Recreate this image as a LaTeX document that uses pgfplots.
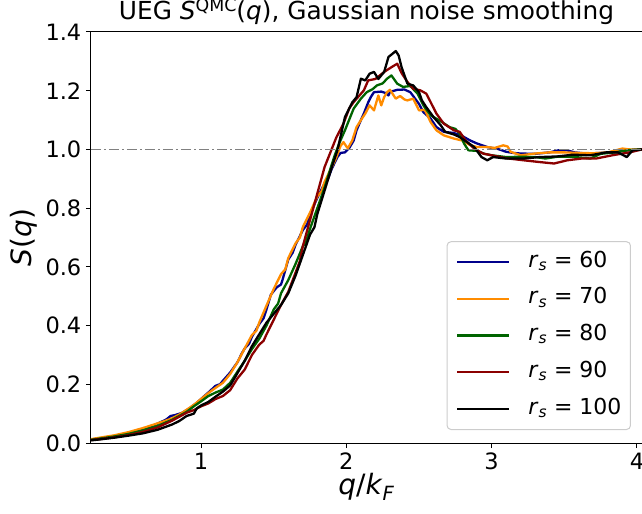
\documentclass[border=0pt]{standalone}
\usepackage{fontspec}
\setmainfont{DejaVu Sans}
\usepackage{pgfplots}
\pgfplotsset{compat=1.18}
\definecolor{cblue}{HTML}{00008B}
\definecolor{corange}{HTML}{FF8C00}
\definecolor{cgreen}{HTML}{006400}
\definecolor{cred}{HTML}{8B0000}
\newcommand\rs{\textit{r}\textsubscript{\textit{s}}}
\begin{document}
\begin{tikzpicture}
\begin{axis}[name=ax, scale only axis, width=551bp, height=411bp,
  xmin=0.242, xmax=4.035, ymin=0, ymax=1.4,
  xtick={1,2,3,4}, ytick={0,0.2,0.4,0.6,0.8,1.0,1.2,1.4},
  yticklabel style={/pgf/number format/.cd, fixed, fixed zerofill, precision=1},
  /pgf/number format/assume math mode=true,
  tick align=outside, xtick pos=left, ytick pos=left, major tick length=5bp,
  tick style={black, line width=1bp},
  axis line style={line width=1bp},
  ticklabel style={font=\fontsize{22.5bp}{27bp}\selectfont, inner sep=4.5bp},
  title={UEG \textit{S}\raisebox{8bp}{\fontsize{17.4bp}{20bp}\selectfont QMC}(\textit{q}), Gaussian noise smoothing},
  title style={font=\fontsize{24.8bp}{28bp}\selectfont, at={(axis description cs:0.5,1.0158)}, anchor=base, inner sep=0pt},
  xlabel={\textit{q}/\textit{k}\textsubscript{\textit{F}}},
  ylabel={\textit{S}(\textit{q})},
  xlabel style={font=\fontsize{28bp}{32bp}\selectfont, at={(axis description cs:0.5,-0.1265)}, anchor=base, inner sep=0pt},
  ylabel style={font=\fontsize{28bp}{32bp}\selectfont, at={(axis description cs:-0.1071,0.5)}, anchor=base, inner sep=0pt},
  legend image code/.code={\draw[#1, line width=2.3bp] (0bp,0bp) -- (52bp,0bp);},
  legend cell align=left,
  legend style={at={(axis description cs:0.98,0.0316)}, anchor=south east,
    font=\fontsize{22bp}{26bp}\selectfont, draw=black!20, line width=1bp, rounded corners=4bp,
    fill=white, fill opacity=0.8, text opacity=1, inner xsep=9bp, inner ysep=9.5bp,
    nodes={inner sep=0pt, text height=16bp, text depth=6bp},
    row sep=14.7bp,
    /tikz/every odd column/.append style={column sep=18bp}},
  every axis plot/.append style={line width=2.3bp, line join=round},
]
\addplot[cblue] table {
0.242 0.012
0.30 0.016
0.40 0.023
0.50 0.032
0.60 0.046
0.70 0.066
0.76 0.080
0.79 0.092
0.82 0.095
0.87 0.103
0.92 0.118
0.97 0.137
1.00 0.150
1.05 0.172
1.10 0.195
1.13 0.200
1.15 0.212
1.20 0.240
1.25 0.275
1.28 0.305
1.30 0.322
1.33 0.338
1.35 0.362
1.40 0.405
1.43 0.425
1.45 0.455
1.48 0.505
1.52 0.530
1.55 0.540
1.56 0.555
1.60 0.625
1.63 0.648
1.65 0.675
1.70 0.725
1.73 0.745
1.75 0.780
1.80 0.835
1.85 0.885
1.87 0.895
1.90 0.935
1.94 0.975
1.96 0.988
1.99 0.990
2.02 1.005
2.05 1.030
2.07 1.065
2.10 1.100
2.12 1.122
2.15 1.160
2.17 1.180
2.19 1.195
2.24 1.197
2.27 1.192
2.29 1.184
2.30 1.196
2.35 1.203
2.40 1.204
2.44 1.195
2.47 1.175
2.50 1.155
2.53 1.127
2.58 1.105
2.62 1.076
2.67 1.060
2.74 1.056
2.80 1.045
2.85 1.031
2.90 1.020
2.97 1.008
3.04 1.002
3.10 0.992
3.15 0.988
3.20 0.986
3.30 0.985
3.40 0.990
3.46 0.997
3.52 0.997
3.57 0.990
3.65 0.986
3.75 0.988
3.85 0.992
3.95 0.998
4.035 1.000
};
\addlegendentry{\rs{} = 60}
\addplot[corange] table {
0.242 0.013
0.30 0.018
0.40 0.026
0.50 0.037
0.60 0.051
0.70 0.067
0.75 0.075
0.80 0.084
0.85 0.097
0.90 0.113
0.95 0.130
1.00 0.150
1.05 0.170
1.10 0.188
1.15 0.205
1.20 0.235
1.25 0.275
1.30 0.322
1.35 0.368
1.38 0.382
1.40 0.410
1.45 0.468
1.50 0.525
1.55 0.575
1.58 0.592
1.60 0.630
1.65 0.680
1.68 0.700
1.70 0.735
1.75 0.785
1.80 0.840
1.83 0.858
1.85 0.890
1.90 0.940
1.93 0.972
1.96 1.012
1.98 1.025
2.00 1.010
2.01 1.004
2.04 1.030
2.07 1.076
2.10 1.100
2.13 1.122
2.16 1.150
2.19 1.133
2.22 1.184
2.24 1.150
2.26 1.178
2.28 1.195
2.30 1.203
2.34 1.173
2.37 1.182
2.40 1.170
2.42 1.167
2.46 1.173
2.50 1.133
2.54 1.135
2.58 1.093
2.62 1.065
2.67 1.048
2.74 1.037
2.80 1.030
2.85 1.015
2.90 1.008
2.97 1.008
3.02 1.005
3.08 1.014
3.11 1.010
3.13 0.992
3.20 0.980
3.30 0.986
3.40 0.990
3.50 0.990
3.60 0.988
3.70 0.987
3.80 0.990
3.90 1.003
3.95 1.000
4.035 1.000
};
\addlegendentry{\rs{} = 70}
\addplot[cgreen] table {
0.242 0.011
0.30 0.015
0.40 0.022
0.50 0.031
0.60 0.043
0.70 0.058
0.80 0.079
0.90 0.106
0.95 0.125
1.00 0.142
1.05 0.160
1.10 0.172
1.15 0.182
1.20 0.205
1.25 0.243
1.30 0.280
1.35 0.320
1.40 0.355
1.45 0.400
1.50 0.455
1.53 0.475
1.55 0.510
1.60 0.555
1.65 0.610
1.70 0.670
1.72 0.682
1.75 0.730
1.80 0.800
1.85 0.870
1.90 0.950
1.92 0.980
1.95 1.020
1.99 1.065
2.05 1.139
2.10 1.173
2.14 1.195
2.18 1.205
2.21 1.218
2.25 1.225
2.28 1.241
2.31 1.252
2.35 1.224
2.39 1.213
2.44 1.216
2.49 1.190
2.53 1.150
2.58 1.116
2.64 1.099
2.71 1.076
2.75 1.070
2.78 1.054
2.81 1.020
2.84 0.997
2.90 0.995
2.95 0.985
3.00 0.980
3.10 0.974
3.20 0.975
3.30 0.974
3.37 0.969
3.45 0.975
3.55 0.975
3.62 0.972
3.68 0.969
3.75 0.985
3.85 0.990
3.95 0.998
4.035 1.000
};
\addlegendentry{\rs{} = 80}
\addplot[cred] table {
0.242 0.010
0.30 0.013
0.40 0.019
0.50 0.027
0.60 0.038
0.70 0.053
0.80 0.076
0.90 0.103
0.95 0.112
1.00 0.125
1.05 0.135
1.10 0.150
1.15 0.160
1.20 0.180
1.25 0.220
1.30 0.250
1.35 0.300
1.40 0.335
1.43 0.348
1.45 0.370
1.50 0.420
1.55 0.470
1.60 0.515
1.65 0.580
1.68 0.620
1.70 0.670
1.75 0.760
1.80 0.850
1.85 0.940
1.89 0.990
1.93 1.040
1.98 1.088
2.02 1.140
2.05 1.161
2.12 1.201
2.15 1.235
2.20 1.240
2.26 1.264
2.31 1.280
2.35 1.292
2.38 1.260
2.42 1.230
2.46 1.207
2.51 1.201
2.55 1.190
2.58 1.161
2.62 1.122
2.67 1.088
2.74 1.065
2.78 1.060
2.82 1.031
2.88 1.003
2.94 0.986
3.00 0.980
3.10 0.970
3.22 0.963
3.33 0.957
3.43 0.952
3.52 0.963
3.62 0.969
3.72 0.969
3.83 0.980
3.95 0.990
4.035 1.000
};
\addlegendentry{\rs{} = 90}
\addplot[black] table {
0.242 0.009
0.30 0.012
0.40 0.018
0.50 0.025
0.60 0.033
0.70 0.045
0.80 0.063
0.85 0.075
0.90 0.092
0.95 0.100
0.97 0.118
1.00 0.128
1.05 0.140
1.10 0.158
1.15 0.175
1.20 0.196
1.25 0.238
1.30 0.280
1.35 0.330
1.40 0.370
1.45 0.410
1.50 0.440
1.55 0.470
1.60 0.510
1.65 0.570
1.70 0.640
1.75 0.710
1.78 0.735
1.80 0.780
1.85 0.860
1.90 0.940
1.94 1.000
1.99 1.110
2.04 1.160
2.07 1.178
2.10 1.241
2.13 1.235
2.16 1.258
2.19 1.264
2.22 1.240
2.26 1.264
2.29 1.315
2.34 1.335
2.36 1.320
2.38 1.280
2.42 1.224
2.46 1.218
2.50 1.195
2.52 1.167
2.55 1.144
2.60 1.110
2.65 1.082
2.68 1.060
2.74 1.051
2.78 1.042
2.88 1.008
2.93 0.974
2.97 0.963
3.01 0.974
3.10 0.969
3.22 0.969
3.33 0.974
3.45 0.976
3.56 0.982
3.68 0.980
3.79 0.990
3.87 0.990
3.93 0.974
3.97 0.997
4.035 1.000
};
\addlegendentry{\rs{} = 100}
\addplot[gray, line width=1.6bp, dash pattern=on 10bp off 3bp on 2bp off 3bp, forget plot] coordinates {(0.242,1) (4.035,1)};
\end{axis}
\pgfresetboundingbox
\path ([xshift=-91bp,yshift=-71bp]ax.south west) rectangle ([yshift=32bp]ax.north east);
\end{tikzpicture}
\end{document}
